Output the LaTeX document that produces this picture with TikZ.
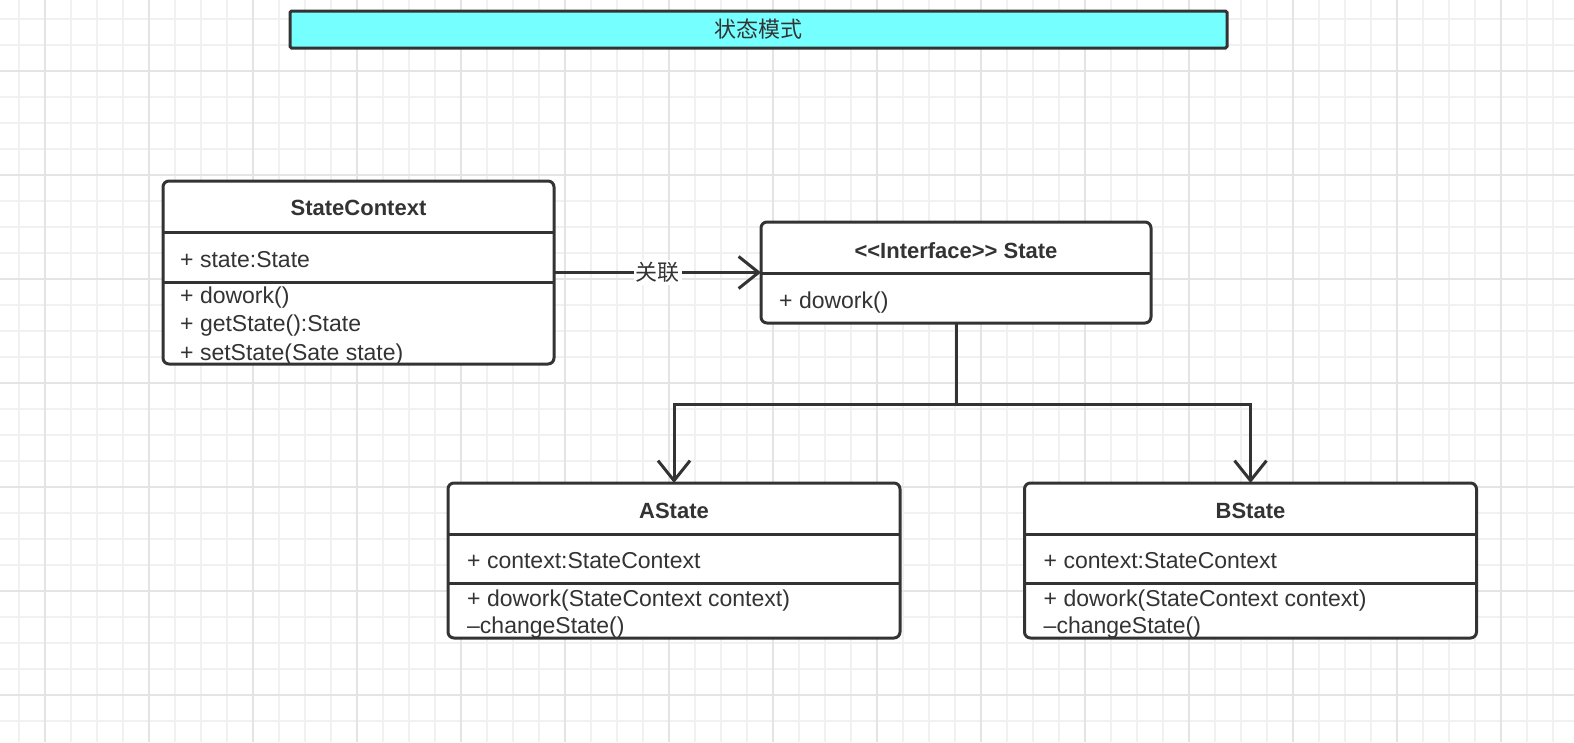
\documentclass[tikz,border=0pt]{standalone}
\usepackage{fontspec}
\usepackage{tikz}
\usetikzlibrary{arrows.meta}
\usetikzlibrary{positioning}
\newfontfamily\uifont{Liberation Sans}
\newfontfamily\cjk{Noto Sans CJK SC}
\definecolor{ink}{HTML}{333333}
\definecolor{gridminor}{HTML}{F1F1F1}
\definecolor{gridmajor}{HTML}{E4E4E4}
\definecolor{titlecyan}{HTML}{75FFFF}
\tikzset{>={Straight Barb[length=20pt,width=32pt]}}

\begin{document}
\begin{tikzpicture}[x=1pt, y=-1pt,
    cls/.style={draw=ink, line width=3pt, rounded corners=6pt, fill=white, inner sep=0pt, outer sep=0pt},
    sep/.style={draw=ink, line width=3pt},
    hd/.style={inner sep=0pt, anchor=base, text=ink, font=\uifont\bfseries\fontsize{22}{26}\selectfont},
    txt/.style={inner sep=0pt, anchor=base west, text=ink, font=\uifont\fontsize{23}{28}\selectfont},
    link/.style={draw=ink, line width=3pt},
    node distance=3cm, on grid]
    \useasboundingbox (0,0) rectangle (1574,742);
    % grid paper
    \foreach \x in {19,45,...,1573} \draw[gridminor, line width=1.5pt] (\x,0) -- (\x,742);
    \foreach \y in {19,45,...,741} \draw[gridminor, line width=1.5pt] (0,\y) -- (1574,\y);
    \foreach \x in {45,149,...,1573} \draw[gridmajor, line width=1.5pt] (\x,0) -- (\x,742);
    \foreach \y in {71,175,...,741} \draw[gridmajor, line width=1.5pt] (0,\y) -- (1574,\y);

    \node[draw=ink, line width=3pt, rounded corners=1.5pt, fill=titlecyan, minimum width=937pt, minimum height=37pt, inner sep=0pt,
        font=\cjk\fontsize{22}{26}\selectfont, text=ink] (title) at (758.5,29.5) {状态模式};

    % classes
    \node[cls, minimum width=391pt, minimum height=183pt] (ctx) at (358.5,272.5) {};
    \node[cls, minimum width=390pt, minimum height=101pt] (state) [right=597.5pt of ctx] {};
    \node[cls, minimum width=452pt, minimum height=155pt] (astate) [below left=288pt and 282pt of state] {};
    \node[cls, minimum width=452pt, minimum height=155pt] (bstate) [right=576.5pt of astate] {};

    \draw[sep] ([yshift=-51pt]ctx.north west) -- ([yshift=-51pt]ctx.north east);
    \draw[sep] ([yshift=-101pt]ctx.north west) -- ([yshift=-101pt]ctx.north east);
    \draw[sep] ([yshift=-51pt]state.north west) -- ([yshift=-51pt]state.north east);
    \draw[sep] ([yshift=-51pt]astate.north west) -- ([yshift=-51pt]astate.north east);
    \draw[sep] ([yshift=-100pt]astate.north west) -- ([yshift=-100pt]astate.north east);
    \draw[sep] ([yshift=-51pt]bstate.north west) -- ([yshift=-51pt]bstate.north east);
    \draw[sep] ([yshift=-100pt]bstate.north west) -- ([yshift=-100pt]bstate.north east);

    \node[hd] (ctxname) at ([yshift=-34pt]ctx.north) {StateContext};
    \node[txt] (ctxattr) at ([xshift=17pt,yshift=-86pt]ctx.north west) {+ state:State};
    \node[txt] (ctxop1) at ([xshift=17pt,yshift=-122pt]ctx.north west) {+ dowork()};
    \node[txt] (ctxop2) at ([xshift=17pt,yshift=-150.5pt]ctx.north west) {+ getState():State};
    \node[txt] (ctxop3) at ([xshift=17pt,yshift=-179pt]ctx.north west) {+ setState(Sate state)};

    \node[hd] (statename) at ([yshift=-36pt]state.north) {<<Interface>> State};
    \node[txt] (stateop) at ([xshift=18pt,yshift=-86pt]state.north west) {+ dowork()};

    \node[hd] (aname) at ([yshift=-35pt]astate.north) {AState};
    \node[txt] (aattr) at ([xshift=19pt,yshift=-85pt]astate.north west) {+ context:StateContext};
    \node[txt] (aop1) at ([xshift=19pt,yshift=-123pt]astate.north west) {+ dowork(StateContext context)};
    \node[txt] (aop2) at ([xshift=19pt,yshift=-150pt]astate.north west) {–changeState()};

    \node[hd] (bname) at ([yshift=-35pt]bstate.north) {BState};
    \node[txt] (battr) at ([xshift=19pt,yshift=-85pt]bstate.north west) {+ context:StateContext};
    \node[txt] (bop1) at ([xshift=19pt,yshift=-123pt]bstate.north west) {+ dowork(StateContext context)};
    \node[txt] (bop2) at ([xshift=19pt,yshift=-150pt]bstate.north west) {–changeState()};

    % association
    \draw[link, ->] (ctx.east) -- node[fill=white, inner sep=2pt, text=ink, font=\cjk\fontsize{22}{26}\selectfont] {关联} (state.west |- ctx.east);

    % realisation
    \coordinate (fork) at ([yshift=-81pt]state.south);
    \draw[link] (state.south) -- (fork);
    \draw[link, ->] (fork) -| (astate.north);
    \draw[link, ->] (fork) -| (bstate.north);
\end{tikzpicture}
\end{document}
